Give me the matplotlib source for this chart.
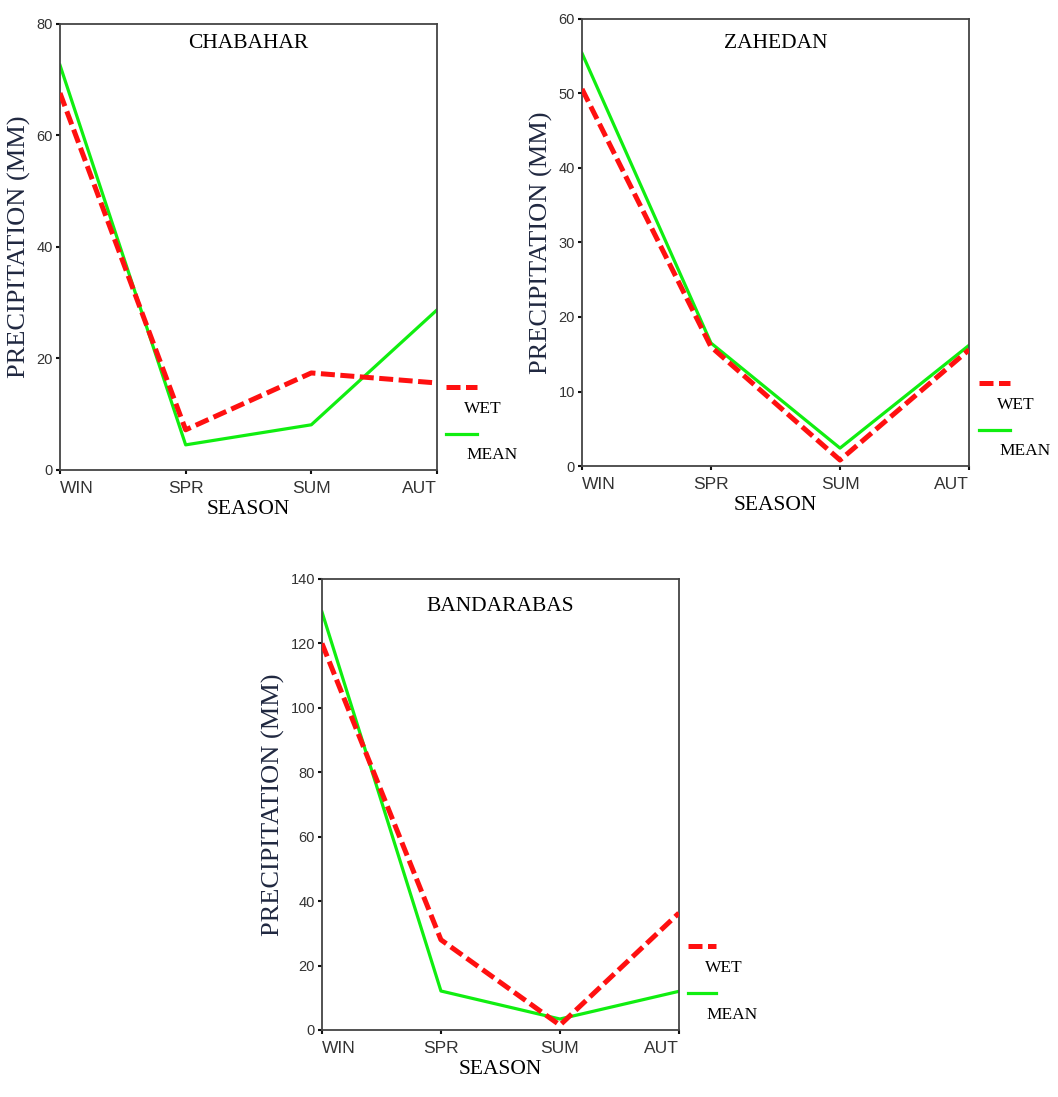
import matplotlib
matplotlib.use("Agg")
import matplotlib.pyplot as plt
from matplotlib.lines import Line2D

seasons = ["WIN", "SPR", "SUM", "AUT"]

# Chabahar
chabahar_wet = [67.6, 7.2, 17.4, 15.6]
chabahar_mean = [72.6, 4.5, 8.1, 28.7]
# Zahedan
zahedan_wet = [50.6, 16.0, 0.8, 15.6]
zahedan_mean = [55.4, 16.5, 2.4, 16.2]
# Bandarabas
bandar_wet = [120.0, 28.0, 1.5, 36.3]
bandar_mean = [129.8, 12.1, 3.4, 12.0]

SERIF = "Liberation Serif"
SANS = "Liberation Sans"
RED = "#ff1010"
GREEN = "#10ee10"


def draw_panel(ax, name, wet, mean, ymax, ystep, title_y):
    x = list(range(len(seasons)))
    ax.plot(x, wet, color=RED, lw=3.6, dashes=(2.8, 1.1), solid_capstyle="butt", zorder=3)
    ax.plot(x, mean, color=GREEN, lw=2.3, zorder=2)
    ax.set_xlim(0, 3)
    ax.set_ylim(0, ymax)
    ax.set_yticks(range(0, ymax + 1, ystep))
    ax.set_xticks(x)
    ax.set_xticklabels(seasons, family=SANS, fontsize=12.5, color="#333333")
    labs = ax.get_xticklabels()
    labs[0].set_ha("left")
    labs[-1].set_ha("right")
    for t in ax.get_yticklabels():
        t.set_family(SANS)
        t.set_fontsize(10.5)
        t.set_color("#333333")
    ax.tick_params(axis="both", direction="out", length=3, width=1.5, color="#111111", pad=2)
    ax.tick_params(axis="x", pad=5)
    for s in ax.spines.values():
        s.set_color("#444444")
        s.set_linewidth(1.3)
    ax.set_xlabel("SEASON", family=SERIF, fontsize=15.5, labelpad=3)
    ax.set_ylabel("PRECIPITATION (MM)", family=SERIF, fontsize=19, color="#202840", labelpad=4)
    ax.text(0.5, title_y, name, transform=ax.transAxes, ha="center", va="center",
            family=SERIF, fontsize=15.5)

    # legend drawn beside the plot
    ax.add_line(Line2D([1.025, 1.105], [0.186, 0.186], transform=ax.transAxes, color=RED,
                       lw=3.6, dashes=(2.8, 1.1), clip_on=False))
    ax.text(1.072, 0.137, "WET", transform=ax.transAxes, va="center", ha="left",
            family=SERIF, fontsize=12.5)
    ax.add_line(Line2D([1.025, 1.105], [0.081, 0.081], transform=ax.transAxes, color=GREEN,
                       lw=2.3, clip_on=False))
    ax.text(1.078, 0.034, "MEAN", transform=ax.transAxes, va="center", ha="left",
            family=SERIF, fontsize=12.5)


fig = plt.figure(figsize=(10.58, 10.97), dpi=100)
ax1 = fig.add_axes([0.0567, 0.5716, 0.3563, 0.4066])
ax2 = fig.add_axes([0.5501, 0.5752, 0.3658, 0.4075])
ax3 = fig.add_axes([0.3043, 0.0611, 0.3374, 0.4111])

draw_panel(ax1, "CHABAHAR", chabahar_wet, chabahar_mean, 80, 20, 0.957)
draw_panel(ax2, "ZAHEDAN", zahedan_wet, zahedan_mean, 60, 10, 0.946)
draw_panel(ax3, "BANDARABAS", bandar_wet, bandar_mean, 140, 20, 0.938)

fig.savefig("out.png", dpi=100)
